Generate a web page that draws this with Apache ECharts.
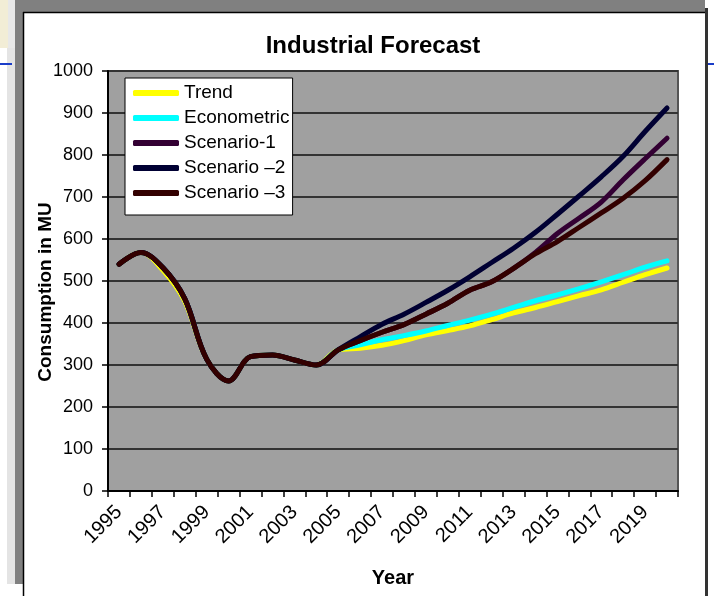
<!DOCTYPE html>
<html>
<head>
<meta charset="utf-8">
<script src="https://cdn.jsdelivr.net/npm/echarts@6/dist/echarts.min.js"></script>
<style>html,body{margin:0;padding:0;background:#fff}#c{width:714px;height:596px}</style>
</head>
<body>
<div id="c"></div>
<script>
// ---- data ----
const years = ['1995','1996','1997','1998','1999','2000','2001','2002','2003','2004','2005','2006','2007','2008','2009','2010','2011','2012','2013','2014','2015','2016','2017','2018','2019','2020'];
const history = [540, 568, 532, 458, 314, 262, 320, 324, 312, 300, 336];
const trendHistory = [540, 568, 526, 452, 314, 262, 320, 324, 312, 300, 336];
const trendForecast = [340, 347, 358, 372, 382, 393, 408, 424, 437, 451, 465, 479, 497, 515, 531];
const econometricForecast = [348, 360, 370, 381, 394, 407, 421, 437, 453, 467, 482, 498, 515, 533, 548];
const scenario1Forecast = [358, 378, 396, 421, 447, 478, 498, 530, 568, 613, 650, 688, 741, 791, 840];
const scenario2Forecast = [367, 397, 421, 449, 478, 510, 544, 578, 616, 659, 703, 748, 797, 856, 912];
const scenario3Forecast = [358, 378, 396, 421, 447, 478, 498, 530, 565, 594, 628, 662, 697, 739, 789];
const seriesNames = ['Trend', 'Econometric', 'Scenario-1', 'Scenario \u20132', 'Scenario \u20133'];
const seriesColors = ['#ffff00', '#00ffff', '#330033', '#000033', '#330000'];
const yTicks = [0, 100, 200, 300, 400, 500, 600, 700, 800, 900, 1000];
const yAxisTitle = 'Consumption in MU';

const seriesData = [
  trendHistory.concat(trendForecast),
  history.concat(econometricForecast),
  history.concat(scenario1Forecast),
  history.concat(scenario2Forecast),
  history.concat(scenario3Forecast)
];

const FONT = 'Liberation Sans, Arial, sans-serif';
const chart = echarts.init(document.getElementById('c'), null, {renderer: 'canvas'});

const option = {
  backgroundColor: '#ffffff',
  animation: false,
  title: {
    text: 'Industrial Forecast',
    left: 368, top: 29, textAlign: 'center',
    textStyle: {fontFamily: FONT, fontSize: 24, fontWeight: 'bold', color: '#000'}
  },
  graphic: [
    {type: 'rect', z: -10, shape: {x: 0, y: 0, width: 8, height: 48}, style: {fill: '#f2edd6'}},
    {type: 'rect', z: -10, shape: {x: 8, y: 0, width: 7, height: 48}, style: {fill: '#e8e8e8'}},
    {type: 'rect', z: -10, shape: {x: 7, y: 48, width: 8, height: 536}, style: {fill: '#e4e4e4'}},
    {type: 'rect', z: -10, shape: {x: 15, y: 0, width: 8, height: 584}, style: {fill: '#808080'}},
    {type: 'rect', z: -10, shape: {x: 15, y: 0, width: 690, height: 12}, style: {fill: '#808080'}},
    {type: 'rect', z: -10, shape: {x: 0, y: 63, width: 12, height: 2}, style: {fill: '#1a3cc8'}},
    {type: 'rect', z: -10, shape: {x: 708, y: 63, width: 6, height: 2}, style: {fill: '#1a3cc8'}},
    {type: 'rect', z: -10, shape: {x: 705, y: 8, width: 3, height: 588}, style: {fill: '#333'}},
    {type: 'line', z: -5, shape: {x1: 23.5, y1: 12, x2: 23.5, y2: 596}, style: {stroke: '#000', lineWidth: 1.5}},
    {type: 'line', z: -5, shape: {x1: 23, y1: 12.5, x2: 705, y2: 12.5}, style: {stroke: '#000', lineWidth: 1.5}},
    {type: 'text', x: 46, y: 292, rotation: Math.PI / 2,
      style: {text: yAxisTitle, fontFamily: FONT, fontSize: 19, fontWeight: 'bold', fill: '#000',
        align: 'center', verticalAlign: 'middle'}}
  ],
  legend: {
    orient: 'vertical',
    left: 125, top: 78,
    padding: [5, 3, 12, 8],
    itemGap: 5,
    itemWidth: 46, itemHeight: 6,
    icon: 'roundRect',
    backgroundColor: '#fff',
    borderColor: '#000', borderWidth: 1,
    textStyle: {fontFamily: FONT, fontSize: 19, color: '#000', lineHeight: 20},
    data: seriesNames
  },
  grid: {
    left: 108, top: 71, right: 36, bottom: 105,
    show: true, backgroundColor: '#a0a0a0', borderColor: '#555', borderWidth: 2
  },
  xAxis: {
    type: 'category',
    data: years,
    boundaryGap: true,
    name: 'Year', nameLocation: 'middle', nameGap: 77,
    nameTextStyle: {fontFamily: FONT, fontSize: 20, fontWeight: 'bold', color: '#000'},
    axisLine: {lineStyle: {color: '#000', width: 2}},
    axisTick: {show: true, interval: 0, length: 6, lineStyle: {color: '#000', width: 1.5}},
    axisLabel: {interval: 1, rotate: 45, margin: 18, fontFamily: FONT, fontSize: 20, color: '#000'},
    splitLine: {show: false}
  },
  yAxis: {
    type: 'value', min: 0, max: 1000, interval: 100,
    axisLine: {show: true, lineStyle: {color: '#000', width: 2}},
    axisTick: {show: true, length: 6, lineStyle: {color: '#000', width: 1.5}},
    axisLabel: {margin: 15, fontFamily: FONT, fontSize: 18, color: '#000',
      formatter: v => (yTicks.indexOf(v) >= 0 ? String(v) : '')},
    splitLine: {show: true, lineStyle: {color: '#333', width: 2}}
  },
  series: seriesNames.map((n, i) => ({
    name: n, type: 'line', data: seriesData[i], smooth: 0.35,
    showSymbol: false, symbol: 'none',
    color: seriesColors[i],
    lineStyle: {color: seriesColors[i], width: 5, cap: 'round', join: 'round'},
    itemStyle: {color: seriesColors[i]}
  }))
};
chart.setOption(option);
</script>
</body>
</html>
